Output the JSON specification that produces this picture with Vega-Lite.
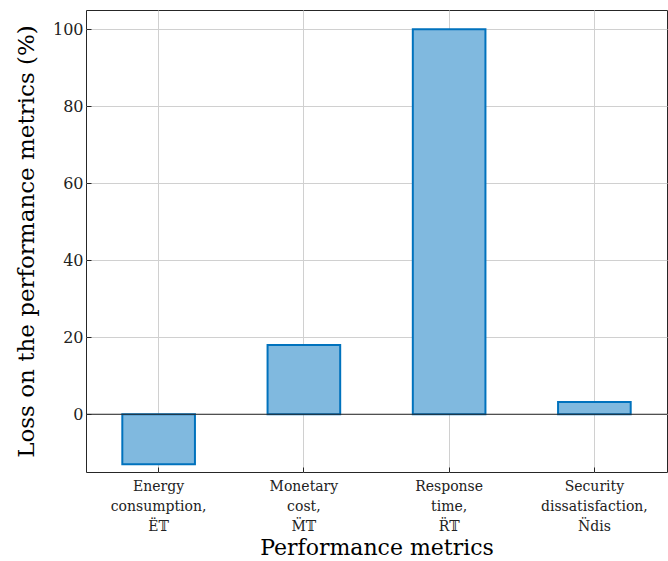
{
  "$schema": "https://vega.github.io/schema/vega-lite/v6.json",
  "autosize": "none",
  "width": 581,
  "height": 462,
  "padding": {"left": 86, "top": 10, "right": 1, "bottom": 89},
  "background": "white",
  "config": {
    "font": "DejaVu Serif",
    "view": {"stroke": "#262626", "strokeWidth": 1}
  },
  "data": {
    "values": [
      {"metric": "Energy|consumption,|Ë𝕋", "loss": -13},
      {"metric": "Monetary|cost,|M̈𝕋", "loss": 18},
      {"metric": "Response|time,|R̈𝕋", "loss": 100},
      {"metric": "Security|dissatisfaction,|N̈dis", "loss": 3.2}
    ]
  },
  "layer": [
    {
      "mark": {"type": "bar", "fill": "#80b9df", "stroke": "#0072bd", "strokeWidth": 2},
      "encoding": {
        "x": {
          "field": "metric", "type": "nominal", "sort": null,
          "scale": {"paddingInner": 0.5, "paddingOuter": 0.25},
          "axis": {
            "title": "Performance metrics",
            "titleFont": "DejaVu Serif", "titleFontSize": 22, "titleFontWeight": "normal", "titleColor": "#000",
            "titlePadding": 4,
            "labelExpr": "split(datum.label, '|')",
            "labelAngle": 0, "labelFontSize": 14, "labelColor": "#222", "labelLineHeight": 20,
            "labelPadding": 12,
            "grid": true, "gridColor": "#d0d0d0", "gridWidth": 1,
            "tickSize": -5, "tickColor": "#262626", "domain": false
          }
        },
        "y": {
          "field": "loss", "type": "quantitative",
          "scale": {"domain": [-15, 105], "nice": false, "zero": false},
          "axis": {
            "title": "Loss on the performance metrics (%)",
            "titleFont": "DejaVu Serif", "titleFontSize": 23, "titleFontWeight": "normal", "titleColor": "#000",
            "titlePadding": 14,
            "values": [0, 20, 40, 60, 80, 100],
            "labelFontSize": 16, "labelColor": "#222", "labelPadding": 8,
            "grid": true, "gridColor": "#d0d0d0", "gridWidth": 1,
            "tickSize": -5, "tickColor": "#262626", "domain": false
          }
        }
      }
    },
    {
      "data": {"values": [{"y": 0}]},
      "mark": {"type": "rule", "color": "#262626", "strokeWidth": 1},
      "encoding": {"y": {"field": "y", "type": "quantitative"}}
    }
  ]
}
